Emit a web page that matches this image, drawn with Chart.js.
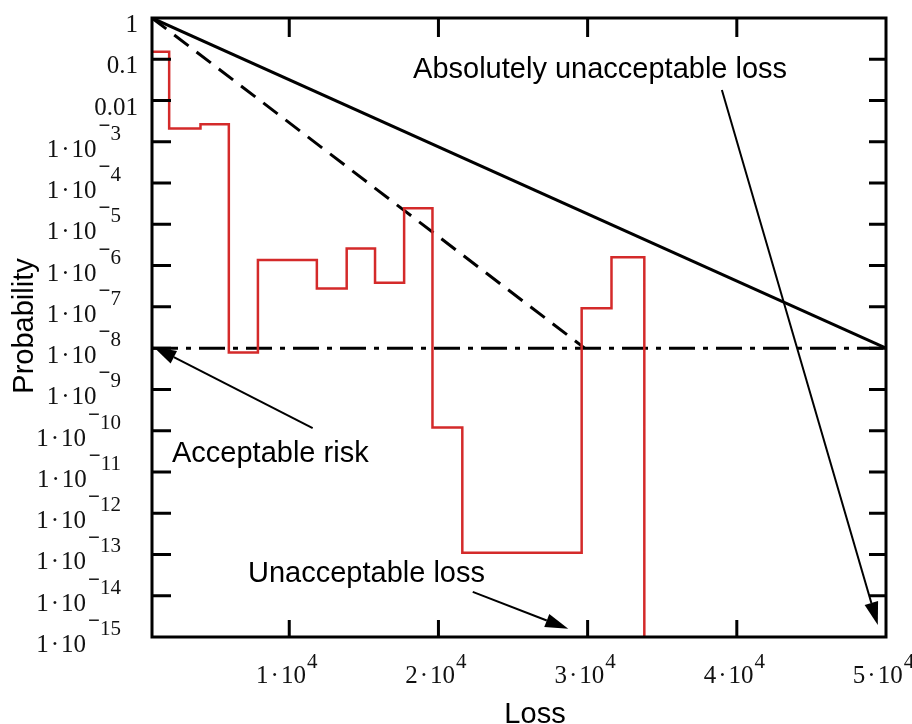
<!DOCTYPE html>
<html>
<head>
<meta charset="utf-8">
<script src="https://cdn.jsdelivr.net/npm/chart.js@4.4.0/dist/chart.umd.min.js"></script>
<style>
  html, body { margin: 0; padding: 0; background: #fff; }
  canvas { display: block; }
</style>
</head>
<body>
<canvas id="chart" width="912" height="724"></canvas>
<script>
// Loss distribution (step histogram): left bin edge -> probability
const stepLoss = [800, 1950, 4050, 5950, 7900, 11850, 13850, 15750, 17700, 19600, 21600, 29600, 31600, 33800];
const stepProb = [0.152, 2.1e-3, 2.65e-3, 7.8e-9, 1.37e-6, 2.8e-7, 2.6e-6, 3.85e-7, 2.45e-5, 1.2e-10, 1.1e-13, 9.2e-8, 1.6e-6, 1e-17];

// Boundary lines
const absLoss = [800, 50000];
const absProb = [1, 1e-8];
const unaccLoss = [800, 29800];
const unaccProb = [1, 1e-8];
const riskLoss = [800, 50000];
const riskProb = [1e-8, 1e-8];

// Axis ticks
const xTickValues = [10000, 20000, 30000, 40000, 50000];
const xTickLabels = ['1·10^4', '2·10^4', '3·10^4', '4·10^4', '5·10^4'];
const yTickValues = [1, 0.1, 0.01, 1e-3, 1e-4, 1e-5, 1e-6, 1e-7, 1e-8, 1e-9, 1e-10, 1e-11, 1e-12, 1e-13, 1e-14, 1e-15];
const yTickLabels = ['1', '0.1', '0.01', '1·10^−3', '1·10^−4', '1·10^−5', '1·10^−6', '1·10^−7', '1·10^−8',
  '1·10^−9', '1·10^−10', '1·10^−11', '1·10^−12', '1·10^−13', '1·10^−14', '1·10^−15'];

// Annotations: text anchor, arrow start, arrow tip (loss, probability)
const notes = [
  { text: 'Absolutely unacceptable loss', at: [18300, 0.035], from: [39000, 0.018], to: [49450, 1.95e-15] },
  { text: 'Acceptable risk', at: [2140, 1.74e-11], from: [11570, 1.15e-10], to: [890, 1.08e-8] },
  { text: 'Unacceptable loss', at: [7235, 2.16e-14], from: [22300, 1.24e-14], to: [28700, 1.58e-15] }
];

const toPts = (xs, ys) => xs.map((v, i) => ({ x: v, y: ys[i] }));

const SERIF = '"Liberation Serif", "DejaVu Serif", serif';
const SANS = '"Liberation Sans", Arial, sans-serif';

// "1·10" with a little air round the dot
function mainWidth(ctx, s) {
  const parts = s.split('·');
  if (parts.length < 2) return ctx.measureText(s).width;
  return ctx.measureText(parts[0]).width + ctx.measureText('·').width + ctx.measureText(parts[1]).width + 4;
}
function drawMain(ctx, s, left, base) {
  ctx.textAlign = 'left';
  const parts = s.split('·');
  if (parts.length < 2) { ctx.fillText(s, left, base); return; }
  ctx.fillText(parts[0], left, base);
  left += ctx.measureText(parts[0]).width + 2;
  ctx.fillText('·', left, base);
  left += ctx.measureText('·').width + 2;
  ctx.fillText(parts[1], left, base);
}

function arrow(ctx, x1, y1, x2, y2) {
  const ang = Math.atan2(y2 - y1, x2 - x1);
  const len = 23, half = 7;
  const bx = x2 - len * Math.cos(ang), by = y2 - len * Math.sin(ang);
  ctx.beginPath();
  ctx.moveTo(x1, y1);
  ctx.lineTo(bx, by);
  ctx.stroke();
  ctx.beginPath();
  ctx.moveTo(x2, y2);
  ctx.lineTo(bx + half * Math.sin(ang), by - half * Math.cos(ang));
  ctx.lineTo(bx - half * Math.sin(ang), by + half * Math.cos(ang));
  ctx.closePath();
  ctx.fill();
}

const decor = {
  id: 'decor',
  afterDraw(chart) {
    const { ctx, chartArea: a } = chart;
    const x = chart.scales.x, y = chart.scales.y;
    ctx.save();
    ctx.strokeStyle = '#000';
    ctx.fillStyle = '#000';

    // frame
    ctx.lineWidth = 3;
    ctx.strokeRect(a.left, a.top, a.right - a.left, a.bottom - a.top);

    // inward ticks on all four sides
    ctx.beginPath();
    yTickValues.forEach(v => {
      const py = y.getPixelForValue(v);
      if (py < a.top + 2 || py > a.bottom - 2) return;
      ctx.moveTo(a.left, py); ctx.lineTo(a.left + 19, py);
      ctx.moveTo(a.right, py); ctx.lineTo(a.right - 17, py);
    });
    xTickValues.forEach(v => {
      const px = x.getPixelForValue(v);
      if (px > a.right - 2) return;
      ctx.moveTo(px, a.bottom); ctx.lineTo(px, a.bottom - 17);
      ctx.moveTo(px, a.top); ctx.lineTo(px, a.top + 19);
    });
    ctx.stroke();

    // y tick labels
    ctx.fillStyle = '#111';
    yTickValues.forEach((v, i) => {
      const py = y.getPixelForValue(v);
      const [base, exp] = yTickLabels[i].split('^');
      ctx.font = '25px ' + SERIF;
      if (!exp) {
        ctx.textAlign = 'right';
        ctx.fillText(base, 138, py + 14);
        return;
      }
      const digits = exp.replace('−', '');
      ctx.font = '21px ' + SERIF;
      const wd = ctx.measureText(digits).width;
      const dLeft = 121 - wd;
      ctx.textAlign = 'left';
      ctx.fillText(digits, dLeft, py - 2);
      ctx.font = 'bold 21px ' + SERIF;
      const wm = ctx.measureText('−').width;
      ctx.fillText('−', dLeft - wm, py - 10);
      ctx.font = '25px ' + SERIF;
      const wb = mainWidth(ctx, base);
      drawMain(ctx, base, dLeft - wm - 2 - wb, py + 15);
    });

    // x tick labels
    xTickValues.forEach((v, i) => {
      const px = x.getPixelForValue(v);
      const [base, exp] = xTickLabels[i].split('^');
      ctx.font = '25px ' + SERIF;
      const wb = mainWidth(ctx, base);
      ctx.font = '21px ' + SERIF;
      const we = ctx.measureText(exp).width;
      const left = px - (wb + we) / 2 - 3;
      ctx.font = '25px ' + SERIF;
      drawMain(ctx, base, left, a.bottom + 46);
      ctx.font = '21px ' + SERIF;
      ctx.textAlign = 'left';
      ctx.fillText(exp, left + wb + 1, a.bottom + 31);
    });

    // axis titles
    ctx.fillStyle = '#000';
    ctx.font = '29px ' + SANS;
    ctx.textAlign = 'center';
    ctx.textBaseline = 'alphabetic';
    ctx.fillText('Loss', 535, 723);
    ctx.save();
    ctx.translate(33, 326);
    ctx.rotate(-Math.PI / 2);
    ctx.fillText('Probability', 0, 0);
    ctx.restore();

    // annotations
    ctx.lineWidth = 2;
    notes.forEach(n => {
      ctx.textAlign = 'left';
      ctx.fillText(n.text, x.getPixelForValue(n.at[0]), y.getPixelForValue(n.at[1]));
      arrow(ctx,
        x.getPixelForValue(n.from[0]), y.getPixelForValue(n.from[1]),
        x.getPixelForValue(n.to[0]), y.getPixelForValue(n.to[1]));
    });
    ctx.restore();
  }
};

new Chart(document.getElementById('chart').getContext('2d'), {
  type: 'line',
  data: {
    datasets: [
      { data: toPts(stepLoss, stepProb), borderColor: '#d42a2a', borderWidth: 2.5, stepped: 'before',
        borderJoinStyle: 'miter', pointRadius: 0, fill: false },
      { data: toPts(absLoss, absProb), borderColor: '#000', borderWidth: 3, pointRadius: 0, fill: false },
      { data: toPts(unaccLoss, unaccProb), borderColor: '#000', borderWidth: 3, borderDash: [18, 10],
        pointRadius: 0, fill: false },
      { data: toPts(riskLoss, riskProb), borderColor: '#000', borderWidth: 3, borderDash: [26, 8, 5, 8],
        pointRadius: 0, fill: false }
    ]
  },
  options: {
    responsive: false,
    animation: false,
    devicePixelRatio: 1,
    layout: { padding: { left: 152, right: 26, top: 18, bottom: 87 } },
    plugins: { legend: { display: false }, tooltip: { enabled: false } },
    scales: {
      x: { type: 'linear', min: 800, max: 50000, display: false },
      y: { type: 'logarithmic', min: 1e-15, max: 1, display: false }
    }
  },
  plugins: [decor]
});
</script>
</body>
</html>
